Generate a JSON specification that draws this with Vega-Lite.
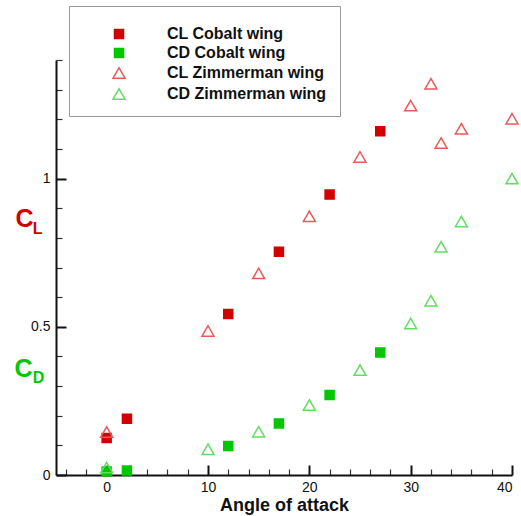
{
  "$schema": "https://vega.github.io/schema/vega-lite/v6.json",
  "width": 456,
  "height": 415,
  "autosize": "none",
  "padding": {"left": 56, "top": 60, "right": 9, "bottom": 41},
  "background": "white",
  "config": {"view": {"stroke": null}, "font": "Liberation Sans"},
  "datasets": {
    "pts": [
      {"a": 0, "c": 0.125, "s": "CL Cobalt wing"},
      {"a": 2, "c": 0.19, "s": "CL Cobalt wing"},
      {"a": 12, "c": 0.543, "s": "CL Cobalt wing"},
      {"a": 17, "c": 0.753, "s": "CL Cobalt wing"},
      {"a": 22, "c": 0.946, "s": "CL Cobalt wing"},
      {"a": 27, "c": 1.16, "s": "CL Cobalt wing"},
      {"a": 0, "c": 0.012, "s": "CD Cobalt wing"},
      {"a": 2, "c": 0.015, "s": "CD Cobalt wing"},
      {"a": 12, "c": 0.098, "s": "CD Cobalt wing"},
      {"a": 17, "c": 0.174, "s": "CD Cobalt wing"},
      {"a": 22, "c": 0.27, "s": "CD Cobalt wing"},
      {"a": 27, "c": 0.413, "s": "CD Cobalt wing"},
      {"a": 0, "c": 0.145, "s": "CL Zimmerman wing"},
      {"a": 10, "c": 0.486, "s": "CL Zimmerman wing"},
      {"a": 15, "c": 0.68, "s": "CL Zimmerman wing"},
      {"a": 20, "c": 0.873, "s": "CL Zimmerman wing"},
      {"a": 25, "c": 1.073, "s": "CL Zimmerman wing"},
      {"a": 30, "c": 1.246, "s": "CL Zimmerman wing"},
      {"a": 32, "c": 1.32, "s": "CL Zimmerman wing"},
      {"a": 33, "c": 1.12, "s": "CL Zimmerman wing"},
      {"a": 35, "c": 1.168, "s": "CL Zimmerman wing"},
      {"a": 40, "c": 1.202, "s": "CL Zimmerman wing"},
      {"a": 0, "c": 0.025, "s": "CD Zimmerman wing"},
      {"a": 10, "c": 0.087, "s": "CD Zimmerman wing"},
      {"a": 15, "c": 0.146, "s": "CD Zimmerman wing"},
      {"a": 20, "c": 0.236, "s": "CD Zimmerman wing"},
      {"a": 25, "c": 0.354, "s": "CD Zimmerman wing"},
      {"a": 30, "c": 0.511, "s": "CD Zimmerman wing"},
      {"a": 32, "c": 0.588, "s": "CD Zimmerman wing"},
      {"a": 33, "c": 0.77, "s": "CD Zimmerman wing"},
      {"a": 35, "c": 0.855, "s": "CD Zimmerman wing"},
      {"a": 40, "c": 1.0, "s": "CD Zimmerman wing"}
    ]
  },
  "layer": [
    {
      "data": {"name": "pts"},
      "mark": {"type": "point", "filled": false, "strokeWidth": 0},
      "encoding": {
        "x": {"field": "a", "type": "quantitative", "scale": {"domain": [-5, 40], "nice": false, "zero": false},
          "axis": {"orient": "bottom", "values": [-4,-2,2,4,6,8,12,14,16,18,22,24,26,28,32,34,36,38], "labels": false, "domain": false, "grid": false, "tickSize": -6, "tickWidth": 1.2, "tickColor": "#333", "title": null}},
        "y": {"field": "c", "type": "quantitative", "scale": {"domain": [0, 1.4], "nice": false},
          "axis": {"orient": "left", "values": [0.1,0.2,0.3,0.4,0.6,0.7,0.8,0.9,1.1,1.2,1.3,1.4], "labels": false, "domain": false, "grid": false, "tickSize": -6, "tickWidth": 1.2, "tickColor": "#333", "title": null}}
      }
    },
    {
      "data": {"name": "pts"},
      "mark": {"type": "point", "filled": true, "strokeWidth": 1.5, "opacity": 1},
      "encoding": {
        "x": {"field": "a", "type": "quantitative",
          "axis": {"orient": "bottom", "values": [0, 10, 20, 30, 40], "grid": false, "tickSize": -10, "tickWidth": 2, "tickColor": "#111", "domainColor": "#111", "domainWidth": 2, "labelFontSize": 14, "labelColor": "#111", "labelPadding": 15, "labelFont": "Liberation Sans", "title": "Angle of attack", "titleFontSize": 18, "titleFontWeight": "bold", "titleColor": "#111", "titlePadding": 2, "titleFont": "Liberation Sans"}},
        "y": {"field": "c", "type": "quantitative",
          "axis": {"orient": "left", "values": [0, 0.5, 1], "format": "~g", "grid": false, "tickSize": -10, "tickWidth": 2, "tickColor": "#111", "domainColor": "#111", "domainWidth": 2, "labelFontSize": 14, "labelColor": "#111", "labelPadding": 16, "labelFont": "Liberation Sans", "title": null}},
        "shape": {"field": "s", "type": "nominal", "scale": {"domain": ["CL Cobalt wing", "CD Cobalt wing", "CL Zimmerman wing", "CD Zimmerman wing"], "range": ["square", "square", "triangle-up", "triangle-up"]}},
        "fill": {"field": "s", "type": "nominal", "scale": {"domain": ["CL Cobalt wing", "CD Cobalt wing", "CL Zimmerman wing", "CD Zimmerman wing"], "range": ["#d20000", "#00c800", "transparent", "transparent"]}},
        "stroke": {"field": "s", "type": "nominal", "scale": {"domain": ["CL Cobalt wing", "CD Cobalt wing", "CL Zimmerman wing", "CD Zimmerman wing"], "range": ["#d20000", "#00c800", "#e85a5a", "#62dc62"]}},
        "size": {"field": "s", "type": "nominal", "scale": {"type": "ordinal", "domain": ["CL Cobalt wing", "CD Cobalt wing", "CL Zimmerman wing", "CD Zimmerman wing"], "range": [81, 81, 144, 144]},
          "legend": {"orient": "none", "legendX": 13, "legendY": -54, "title": " ", "titleFontSize": 1, "titlePadding": 6, "strokeColor": "#999", "fillColor": "white", "padding": 13, "symbolOffset": 29, "labelOffset": 40, "labelFontSize": 16, "labelFontWeight": "bold", "labelColor": "#111", "labelFont": "Liberation Sans", "rowPadding": 3, "symbolStrokeWidth": 1.5, "labelLimit": 400}}
      }
    },
    {
      "data": {"values": [{"a": -9.0, "c": 0.836, "t": "C"}]},
      "mark": {"type": "text", "align": "left", "baseline": "alphabetic", "fontSize": 25, "fontWeight": "bold", "color": "#d20000", "font": "Liberation Sans"},
      "encoding": {"x": {"field": "a", "type": "quantitative", "axis": null}, "y": {"field": "c", "type": "quantitative", "axis": null}, "text": {"field": "t"}}
    },
    {
      "data": {"values": [{"a": -7.3, "c": 0.812, "t": "L"}]},
      "mark": {"type": "text", "align": "left", "baseline": "alphabetic", "fontSize": 16, "fontWeight": "bold", "color": "#d20000", "font": "Liberation Sans"},
      "encoding": {"x": {"field": "a", "type": "quantitative", "axis": null}, "y": {"field": "c", "type": "quantitative", "axis": null}, "text": {"field": "t"}}
    },
    {
      "data": {"values": [{"a": -9.1, "c": 0.33, "t": "C"}]},
      "mark": {"type": "text", "align": "left", "baseline": "alphabetic", "fontSize": 25, "fontWeight": "bold", "color": "#00c800", "font": "Liberation Sans"},
      "encoding": {"x": {"field": "a", "type": "quantitative", "axis": null}, "y": {"field": "c", "type": "quantitative", "axis": null}, "text": {"field": "t"}}
    },
    {
      "data": {"values": [{"a": -7.3, "c": 0.31, "t": "D"}]},
      "mark": {"type": "text", "align": "left", "baseline": "alphabetic", "fontSize": 16, "fontWeight": "bold", "color": "#00c800", "font": "Liberation Sans"},
      "encoding": {"x": {"field": "a", "type": "quantitative", "axis": null}, "y": {"field": "c", "type": "quantitative", "axis": null}, "text": {"field": "t"}}
    }
  ],
  "resolve": {"axis": {"x": "independent", "y": "independent"}}
}
